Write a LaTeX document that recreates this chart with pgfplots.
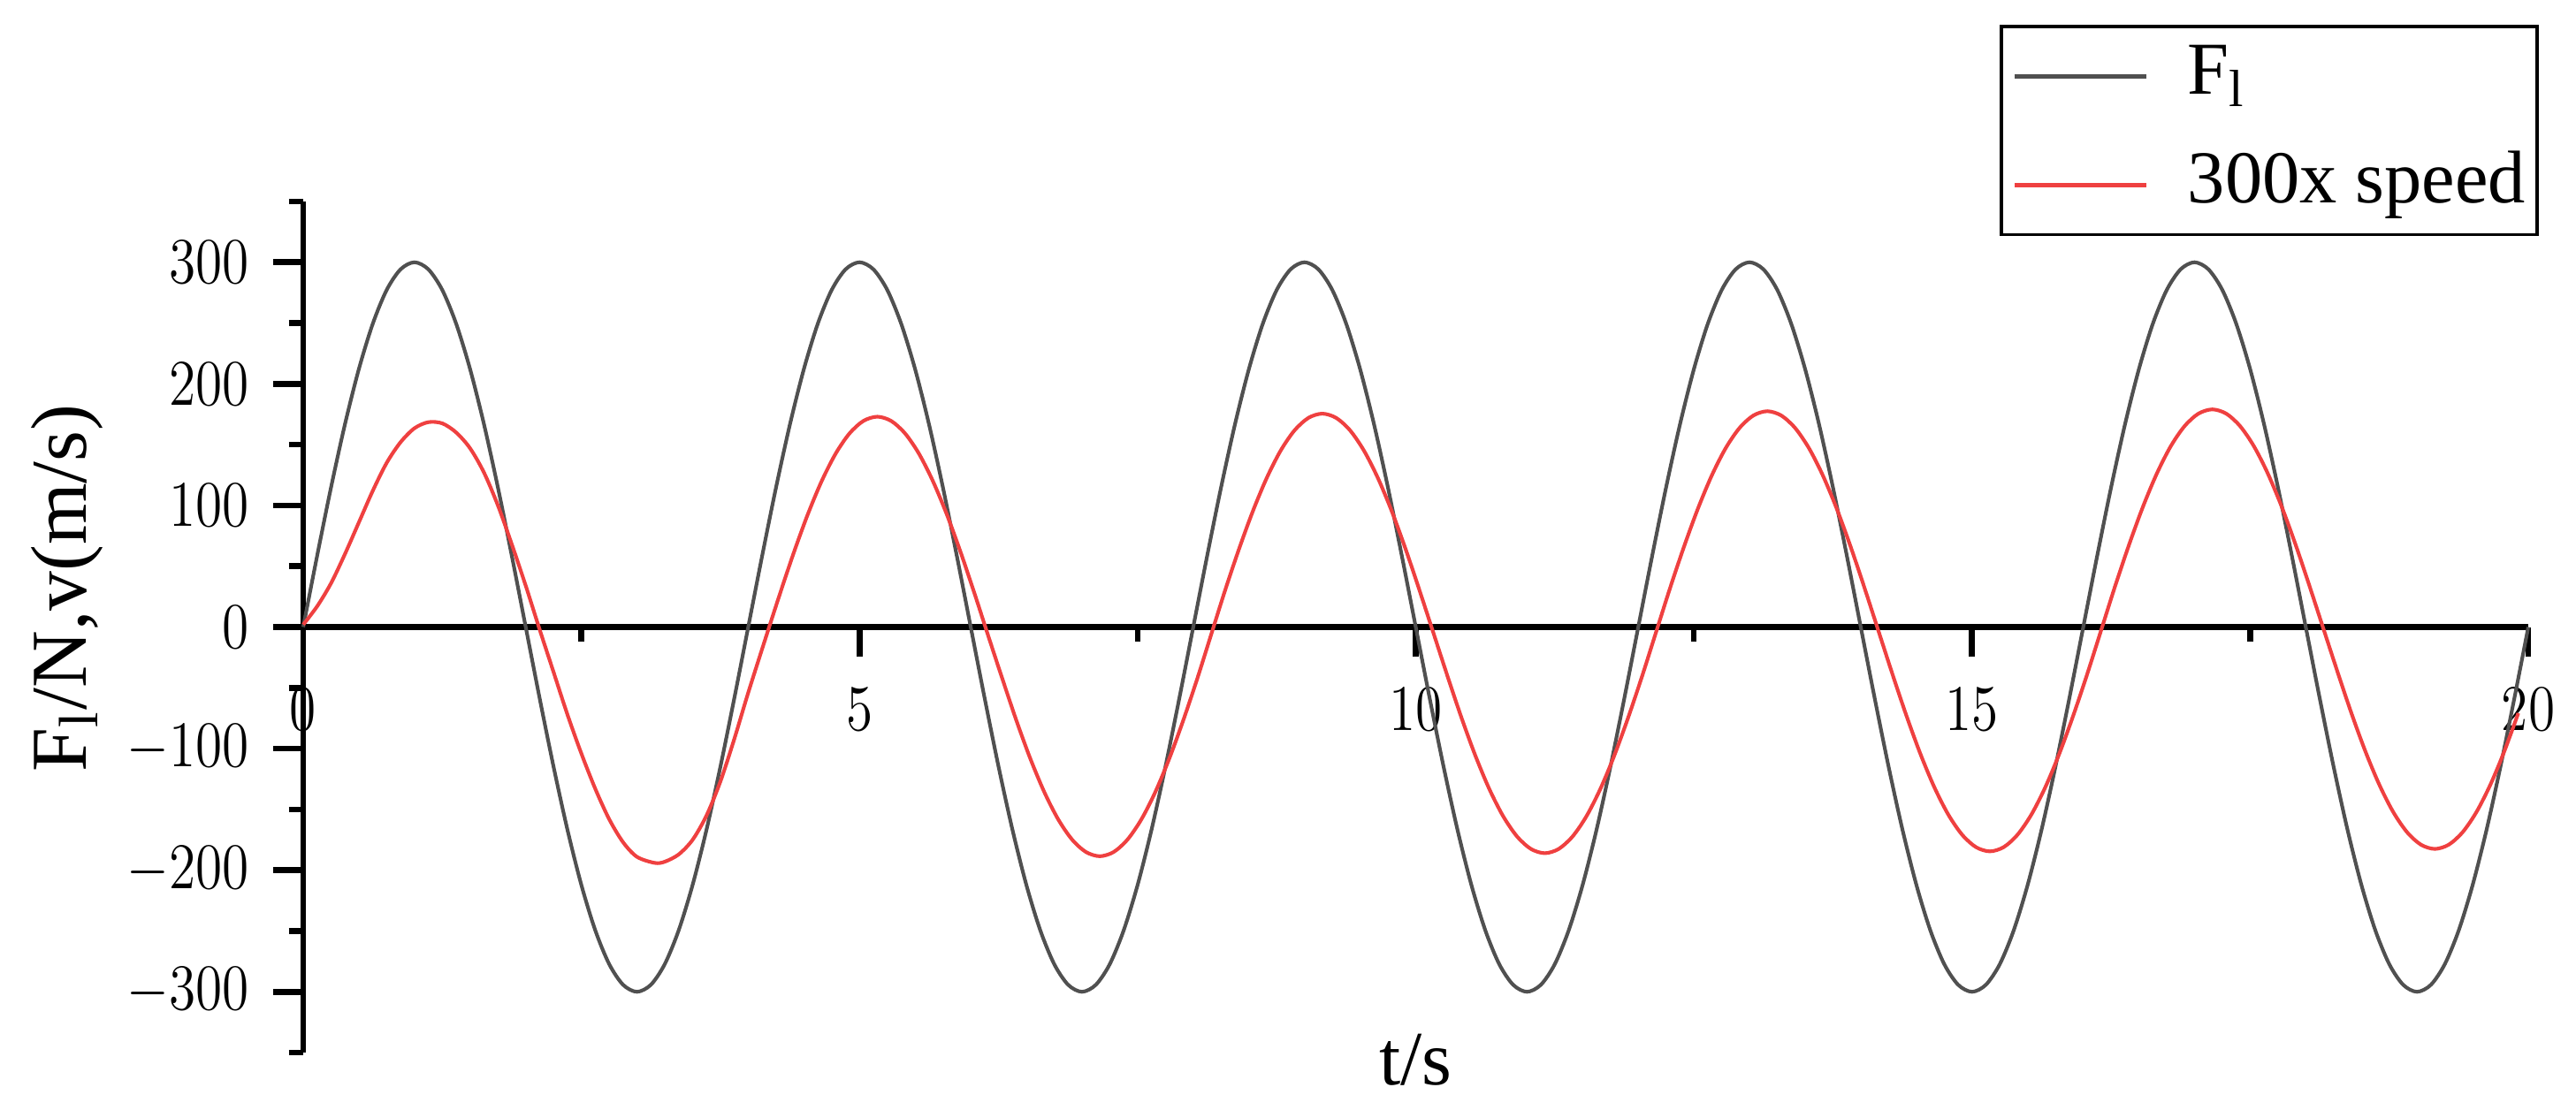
\documentclass[border=0pt]{standalone}
\usepackage{fontspec}
\setmainfont{Liberation Serif}
\usepackage{pgfplots}
\pgfplotsset{compat=1.18}
\definecolor{fline}{HTML}{505050}
\definecolor{vline}{HTML}{EF4040}

\begin{document}
\begin{tikzpicture}
\begin{axis}[
  scale only axis,
  width=491.6pt, height=188.1pt,
  xmin=0, xmax=20, ymin=-350, ymax=350,
  axis x line=middle, axis y line=left,
  x axis line style={-}, y axis line style={-},
  axis line style={line width=1.3pt},
  xtick={0,5,10,15,20}, minor xtick={2.5,7.5,12.5,17.5},
  ytick={-300,-200,...,300}, minor ytick={-350,-250,...,350},
  tick align=outside,
  major tick length=6.6pt, minor tick length=3.2pt,
  every tick/.style={black, line width=1.3pt},
  tick label style={font=\fontsize{12.5}{15}\selectfont},
  xticklabel={\scalebox{1}[1.2]{$\pgfmathprintnumber{\tick}$}},
  yticklabel={\scalebox{1}[1.2]{$\pgfmathprintnumber{\tick}$}},
  xticklabel style={yshift=-3.5pt},
  yticklabel style={xshift=-1.8pt},
  hide obscured x ticks=false, hide obscured y ticks=false,
  clip=false,
  legend style={
    at={(rel axis cs:1,1)}, anchor=north east, xshift=2.3pt, yshift=39pt,
    draw=black, line width=0.7pt,
    font=\fontsize{16.5}{19}\selectfont,
    inner xsep=2.5pt, inner ysep=3.5pt,
    row sep=9pt, column sep=8.7pt,
    nodes={inner sep=0pt, text height=11.5pt, text depth=3.5pt},
  },
  legend cell align=left,
  legend image code/.code={\draw[#1, line width=1pt] (0pt,0pt) -- (29pt,0pt);},
]
% F_l
\addplot[fline, line width=0.8pt, smooth] table {
t F
0 0
0.125 58.5
0.25 114.8
0.375 166.7
0.5 212.1
0.625 249.4
0.75 277.2
0.875 294.2
1 300
1.125 294.2
1.25 277.2
1.375 249.4
1.5 212.1
1.625 166.7
1.75 114.8
1.875 58.5
2 0
2.125 -58.5
2.25 -114.8
2.375 -166.7
2.5 -212.1
2.625 -249.4
2.75 -277.2
2.875 -294.2
3 -300
3.125 -294.2
3.25 -277.2
3.375 -249.4
3.5 -212.1
3.625 -166.7
3.75 -114.8
3.875 -58.5
4 0
4.125 58.5
4.25 114.8
4.375 166.7
4.5 212.1
4.625 249.4
4.75 277.2
4.875 294.2
5 300
5.125 294.2
5.25 277.2
5.375 249.4
5.5 212.1
5.625 166.7
5.75 114.8
5.875 58.5
6 0
6.125 -58.5
6.25 -114.8
6.375 -166.7
6.5 -212.1
6.625 -249.4
6.75 -277.2
6.875 -294.2
7 -300
7.125 -294.2
7.25 -277.2
7.375 -249.4
7.5 -212.1
7.625 -166.7
7.75 -114.8
7.875 -58.5
8 0
8.125 58.5
8.25 114.8
8.375 166.7
8.5 212.1
8.625 249.4
8.75 277.2
8.875 294.2
9 300
9.125 294.2
9.25 277.2
9.375 249.4
9.5 212.1
9.625 166.7
9.75 114.8
9.875 58.5
10 0
10.125 -58.5
10.25 -114.8
10.375 -166.7
10.5 -212.1
10.625 -249.4
10.75 -277.2
10.875 -294.2
11 -300
11.125 -294.2
11.25 -277.2
11.375 -249.4
11.5 -212.1
11.625 -166.7
11.75 -114.8
11.875 -58.5
12 0
12.125 58.5
12.25 114.8
12.375 166.7
12.5 212.1
12.625 249.4
12.75 277.2
12.875 294.2
13 300
13.125 294.2
13.25 277.2
13.375 249.4
13.5 212.1
13.625 166.7
13.75 114.8
13.875 58.5
14 0
14.125 -58.5
14.25 -114.8
14.375 -166.7
14.5 -212.1
14.625 -249.4
14.75 -277.2
14.875 -294.2
15 -300
15.125 -294.2
15.25 -277.2
15.375 -249.4
15.5 -212.1
15.625 -166.7
15.75 -114.8
15.875 -58.5
16 0
16.125 58.5
16.25 114.8
16.375 166.7
16.5 212.1
16.625 249.4
16.75 277.2
16.875 294.2
17 300
17.125 294.2
17.25 277.2
17.375 249.4
17.5 212.1
17.625 166.7
17.75 114.8
17.875 58.5
18 0
18.125 -58.5
18.25 -114.8
18.375 -166.7
18.5 -212.1
18.625 -249.4
18.75 -277.2
18.875 -294.2
19 -300
19.125 -294.2
19.25 -277.2
19.375 -249.4
19.5 -212.1
19.625 -166.7
19.75 -114.8
19.875 -58.5
20 0
};
\addlegendentry{F\textsubscript{l}}
% 300 x speed
\addplot[vline, line width=0.8pt, smooth] table {
t v
0 2
0.125 17
0.25 36
0.375 60
0.5 86
0.625 112
0.75 135
0.875 152
1.0 163.5
1.125 168.5
1.25 167.5
1.375 160
1.5 147
1.625 127
1.75 100
1.875 68
2.0 34
2.125 -2
2.25 -37
2.375 -72
2.5 -104
2.625 -133
2.75 -158
2.875 -177
3.0 -189
3.16 -194
3.25 -193
3.375 -187
3.5 -175
3.625 -155
3.75 -127
3.875 -92
4.0 -54
4.16 -8
4.285 27.3
4.41 61.3
4.535 92.6
4.66 120
4.785 142.5
4.91 159.2
5.035 169.5
5.16 173
5.285 169.5
5.41 159.2
5.535 142.5
5.66 120
5.785 92.6
5.91 61.3
6.035 27.3
6.16 -8
6.285 -42.8
6.41 -76.8
6.535 -108.1
6.66 -135.5
6.785 -158
6.91 -174.7
7.035 -185
7.16 -188.5
7.285 -185
7.41 -174.7
7.535 -158
7.66 -135.5
7.785 -108.1
7.91 -76.8
8.035 -42.8
8.16 -6.5
8.285 29.8
8.41 63.8
8.535 95.1
8.66 122.5
8.785 145
8.91 161.7
9.035 172
9.16 175.5
9.285 172
9.41 161.7
9.535 145
9.66 122.5
9.785 95.1
9.91 63.8
10.035 29.8
10.16 -5.2
10.285 -40.3
10.41 -74.3
10.535 -105.6
10.66 -133
10.785 -155.5
10.91 -172.2
11.035 -182.5
11.16 -186
11.285 -182.5
11.41 -172.2
11.535 -155.5
11.66 -133
11.785 -105.6
11.91 -74.3
12.035 -40.3
12.16 -4.2
12.285 31.8
12.41 65.8
12.535 97.1
12.66 124.5
12.785 147
12.91 163.7
13.035 174
13.16 177.5
13.285 174
13.41 163.7
13.535 147
13.66 124.5
13.785 97.1
13.91 65.8
14.035 31.8
14.16 -3.5
14.285 -38.8
14.41 -72.8
14.535 -104.1
14.66 -131.5
14.785 -154
14.91 -170.7
15.035 -181
15.16 -184.5
15.285 -181
15.41 -170.7
15.535 -154
15.66 -131.5
15.785 -104.1
15.91 -72.8
16.035 -38.8
16.16 -2.8
16.285 33.3
16.41 67.3
16.535 98.6
16.66 126
16.785 148.5
16.91 165.2
17.035 175.5
17.16 179
17.285 175.5
17.41 165.2
17.535 148.5
17.66 126
17.785 98.6
17.91 67.3
18.035 33.3
18.16 -1.8
18.285 -36.8
18.41 -70.8
18.535 -102.1
18.66 -129.5
18.785 -152
18.91 -168.7
19.035 -179
19.16 -182.5
19.285 -179
19.41 -168.7
19.535 -152
19.66 -129.5
19.785 -102.1
19.91 -70.8
};
\addlegendentry{300x speed}
\coordinate (ylab) at (rel axis cs:0,0.5457);
\coordinate (xlab) at (rel axis cs:0.5,0);
\coordinate (bbsw) at (rel axis cs:-0.13627,-0.06646);
\coordinate (bbne) at (rel axis cs:1.02145,1.23676);
\end{axis}
\node[rotate=90, anchor=base, font=\fontsize{17.5}{20}\selectfont]
  at ([xshift=-48pt]ylab) {F\textsubscript{l}/N,v(m/s)};
\node[anchor=base, font=\fontsize{17}{20}\selectfont]
  at ([yshift=-7.2pt]xlab) {t/s};
\pgfresetboundingbox
\useasboundingbox (bbsw) rectangle (bbne);
\end{tikzpicture}
\end{document}
